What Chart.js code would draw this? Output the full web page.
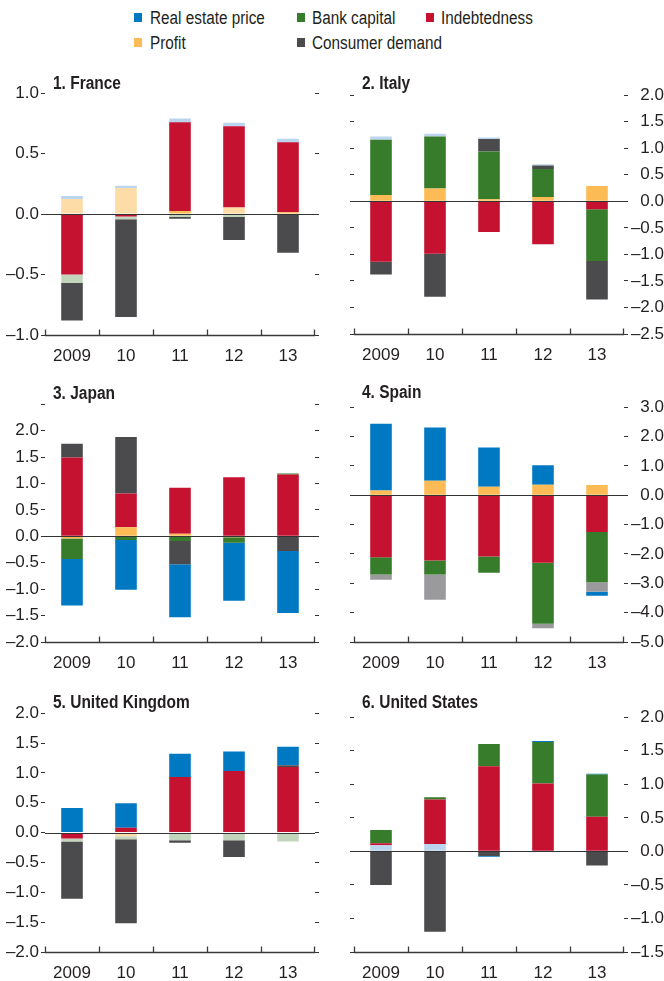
<!DOCTYPE html>
<html><head><meta charset="utf-8">
<script src="https://cdn.jsdelivr.net/npm/chart.js@4.4.1/dist/chart.umd.min.js"></script>
<style>
body{margin:0;background:#fff;width:664px;height:981px;position:relative;overflow:hidden;font-family:'Liberation Sans',Arial,sans-serif;color:#231f20}
canvas{position:absolute}
.title{position:absolute;font-weight:bold;font-size:18px;line-height:20px;z-index:2;white-space:nowrap;transform:scaleX(0.86);transform-origin:0 50%}
.leg{position:absolute;font-size:18px;line-height:20px;white-space:nowrap;transform:scaleX(0.85);transform-origin:0 50%}
.sw{position:absolute;width:8px;height:9px}
</style></head><body>
<script>
// ---------- categories & series ----------
const years = ['2009', '10', '11', '12', '13'];
const seriesKeys = ['re', 'bank', 'debt', 'profit', 'consumer'];
const seriesLabels = {re: 'Real estate price', bank: 'Bank capital', debt: 'Indebtedness', profit: 'Profit', consumer: 'Consumer demand'};

// ---------- values (percentage points) ----------
// 1. France
const franceRealEstate = [0.025, 0.02, 0.03, 0.028, 0.028];
const franceProfit     = [0.125, 0.215, 0.025, 0.055, 0.015];
const franceDebt       = [-0.50, -0.02, 0.735, 0.672, 0.58];
const franceBank       = [-0.07, -0.022, -0.025, -0.025, 0];
const franceConsumer   = [-0.31, -0.81, -0.013, -0.19, -0.32];
const franceFaded = {re: [1,1,1,1,1], profit: [1,1,0,1,0], bank: [1,1,1,1,1]};
// 2. Italy
const italyRealEstate = [0.06, 0.05, 0.03, 0.025, 0];
const italyProfit     = [0.12, 0.244, 0.04, 0.08, 0.29];
const italyDebt       = [-1.14, -0.99, -0.58, -0.81, -0.15];
const italyBank       = [1.04, 0.98, 0.90, 0.53, -0.975];
const italyConsumer   = [-0.24, -0.81, 0.235, 0.065, -0.725];
const italyFaded = {re: [1,1,1,1,1]};
// 3. Japan
const japanRealEstate = [-0.88, -0.94, -1.00, -1.10, -1.17];
const japanProfit     = [-0.04, 0.17, 0.05, -0.02, -0.01];
const japanDebt       = [1.49, 0.64, 0.87, 1.12, 1.17];
const japanBank       = [-0.39, -0.07, -0.09, -0.10, 0.02];
const japanConsumer   = [0.26, 1.07, -0.44, 0, -0.27];
const japanFaded = {};
// 4. Spain
const spainRealEstate = [2.28, 1.82, 1.34, 0.66, -0.13];
const spainProfit     = [0.16, 0.49, 0.29, 0.36, 0.35];
const spainDebt       = [-2.11, -2.22, -2.09, -2.30, -1.25];
const spainBank       = [-0.59, -0.48, -0.55, -2.08, -1.71];
const spainConsumer   = [-0.18, -0.86, 0, -0.15, -0.33];
const spainFaded = {consumer: [1,1,1,1,1]};
// 5. United Kingdom
const ukRealEstate = [0.41, 0.41, 0.39, 0.33, 0.31];
const ukProfit     = [0, -0.06, 0, 0, 0];
const ukDebt       = [-0.10, 0.08, 0.93, 1.03, 1.10];
const ukBank       = [-0.05, -0.05, -0.13, -0.13, -0.15];
const ukConsumer   = [-0.96, -1.41, -0.04, -0.28, 0.03];
const ukFaded = {profit: [1,1,1,1,1], bank: [1,1,1,1,1]};
// 6. United States
const usRealEstate = [0.09, 0.11, -0.01, 0.015, 0.01];
const usProfit     = [0, 0, 0, 0, 0];
const usDebt       = [0.03, 0.665, 1.27, 1.01, 0.516];
const usBank       = [0.20, 0.03, 0.33, 0.62, 0.63];
const usConsumer   = [-0.50, -1.20, -0.07, 0, -0.21];
const usFaded = {re: [1,1,0,0,0]};

// ---------- styles ----------
const strongColors = {re: '#0079c2', bank: '#367c2b', debt: '#c41230', profit: '#fdbb55', consumer: '#4b4b4d'};
const fadedColors  = {re: '#bcd5ee', bank: '#c3d6bd', debt: '#e8a0ab', profit: '#fedca8', consumer: '#9a9a9d'};
const FONT = "'Liberation Sans',Arial,sans-serif";
const TEXT = '#231f20';

const panels = [
  {title: '1. France', values: {re: franceRealEstate, profit: franceProfit, debt: franceDebt, bank: franceBank, consumer: franceConsumer}, faded: franceFaded,
   min: -1, max: 1, step: 0.5, labelMax: 1, side: 'left', box: [0, 81, 332, 284], titlePos: [53, 73],
   order: ['profit', 'debt', 'bank', 'consumer', 're']},
  {title: '2. Italy', values: {re: italyRealEstate, profit: italyProfit, debt: italyDebt, bank: italyBank, consumer: italyConsumer}, faded: italyFaded,
   min: -2.5, max: 2, step: 0.5, labelMax: 2, side: 'right', box: [332, 83, 332, 281], titlePos: [362, 73],
   order: ['profit', 'debt', 'bank', 'consumer', 're']},
  {title: '3. Japan', values: {re: japanRealEstate, profit: japanProfit, debt: japanDebt, bank: japanBank, consumer: japanConsumer}, faded: japanFaded,
   min: -2, max: 2.5, step: 0.5, labelMax: 2, side: 'left', box: [0, 392, 332, 280], titlePos: [53, 383],
   order: ['profit', 'debt', 'bank', 'consumer', 're']},
  {title: '4. Spain', values: {re: spainRealEstate, profit: spainProfit, debt: spainDebt, bank: spainBank, consumer: spainConsumer}, faded: spainFaded,
   min: -5, max: 3, step: 1, labelMax: 3, side: 'right', box: [332, 395, 332, 277], titlePos: [362, 382],
   order: ['profit', 'debt', 'bank', 'consumer', 're']},
  {title: '5. United Kingdom', values: {re: ukRealEstate, profit: ukProfit, debt: ukDebt, bank: ukBank, consumer: ukConsumer}, faded: ukFaded,
   min: -2, max: 2, step: 0.5, labelMax: 2, side: 'left', box: [0, 701, 332, 281], titlePos: [53, 692],
   order: ['profit', 'debt', 'bank', 'consumer', 're']},
  {title: '6. United States', values: {re: usRealEstate, profit: usProfit, debt: usDebt, bank: usBank, consumer: usConsumer}, faded: usFaded,
   min: -1.5, max: 2, step: 0.5, labelMax: 2, side: 'right', box: [332, 705, 332, 277], titlePos: [362, 692],
   order: ['re:faded', 'profit', 'debt', 'bank', 'consumer', 're:strong']}
];

// ---------- legend ----------
const legendItems = [
  ['re', 134, 150, 8], ['bank', 297, 312, 8], ['debt', 426, 441, 8],
  ['profit', 134, 150, 33], ['consumer', 297, 312, 33]
];
legendItems.forEach(([k, sx, tx, y]) => {
  const sw = document.createElement('div'); sw.className = 'sw';
  sw.style.left = sx + 'px'; sw.style.top = (y + 5) + 'px'; sw.style.background = strongColors[k];
  document.body.appendChild(sw);
  const t = document.createElement('div'); t.className = 'leg';
  t.style.left = tx + 'px'; t.style.top = y + 'px'; t.textContent = seriesLabels[k];
  document.body.appendChild(t);
});

function fmt(v) {
  if (Math.abs(v) < 1e-9) return '0.0';
  return (v < 0 ? '\u2013' : '') + Math.abs(v).toFixed(1);
}

const axisPlugin = {
  id: 'axisLines',
  afterDatasetsDraw(chart) {
    const {ctx, chartArea: a, scales} = chart;
    const x = scales.x, y = scales.y;
    ctx.save();
    ctx.strokeStyle = '#333';
    ctx.lineWidth = 1;
    const zy = Math.round(y.getPixelForValue(0)) + 0.5;
    ctx.beginPath(); ctx.moveTo(a.left, zy); ctx.lineTo(a.right, zy); ctx.stroke();
    ctx.strokeStyle = '#3a3a3a';
    ctx.lineWidth = 1.3;
    const by = Math.round(a.bottom) + 0.5;
    ctx.beginPath(); ctx.moveTo(a.left, by); ctx.lineTo(a.right, by); ctx.stroke();
    const n = x.ticks.length;
    for (let i = 0; i <= n; i++) {
      let bx;
      if (i === 0) bx = a.left + 0.5;
      else if (i === n) bx = a.right - 0.5;
      else bx = Math.round((x.getPixelForTick(i - 1) + x.getPixelForTick(i)) / 2) + 0.5;
      ctx.beginPath(); ctx.moveTo(bx, by); ctx.lineTo(bx, by - 6); ctx.stroke();
    }
    ctx.restore();
  }
};

function buildDatasets(p) {
  return p.order.map(entry => {
    const [key, part] = entry.split(':');
    const vals = p.values[key];
    const fl = p.faded[key] || vals.map(() => 0);
    const data = vals.map((v, i) => part === 'faded' ? (fl[i] ? v : 0) : part === 'strong' ? (fl[i] ? 0 : v) : v);
    return {
      label: seriesLabels[key],
      data,
      backgroundColor: vals.map((v, i) => fl[i] ? fadedColors[key] : strongColors[key]),
      borderWidth: 0,
      stack: 's',
      barPercentage: 0.4,
      categoryPercentage: 1
    };
  });
}

panels.forEach(p => {
  const [L, T, W, H] = p.box;
  const tt = document.createElement('div'); tt.className = 'title';
  tt.style.left = p.titlePos[0] + 'px'; tt.style.top = p.titlePos[1] + 'px'; tt.textContent = p.title;

  const cv = document.createElement('canvas');
  cv.width = W; cv.height = H;
  cv.style.left = L + 'px'; cv.style.top = T + 'px';
  cv.style.width = W + 'px'; cv.style.height = H + 'px';
  document.body.appendChild(cv);
  document.body.appendChild(tt);

  const labelSide = p.side;
  const dashSide = p.side === 'left' ? 'right' : 'left';
  const labelWidth = p.side === 'left' ? 45 : 40;
  const dashWidth = p.side === 'left' ? 17 : 22;
  const gridOpts = {drawOnChartArea: false, drawTicks: true, tickLength: 4, color: '#333', tickColor: '#333', lineWidth: 1};

  new Chart(cv, {
    type: 'bar',
    data: {labels: years, datasets: buildDatasets(p)},
    options: {
      responsive: false,
      animation: false,
      devicePixelRatio: 1,
      layout: {padding: {top: 12, bottom: 0, left: 0, right: 0}},
      plugins: {legend: {display: false}, tooltip: {enabled: false}, title: {display: false}},
      scales: {
        x: {
          stacked: true,
          grid: {display: false}, border: {display: false},
          ticks: {font: {family: FONT, size: 17}, color: TEXT, padding: 3, maxRotation: 0, autoSkip: false},
          afterFit(s) { s.height = 30; }
        },
        y: {
          stacked: true, position: labelSide, min: p.min, max: p.max,
          ticks: {stepSize: p.step, font: {family: FONT, size: 17}, color: TEXT, padding: 2,
                  crossAlign: p.side === 'right' ? 'far' : 'near',
                  callback: v => (v > p.labelMax + 1e-9 ? '' : fmt(v))},
          grid: gridOpts, border: {display: false},
          afterFit(s) { s.width = labelWidth; }
        },
        y2: {
          position: dashSide, min: p.min, max: p.max,
          ticks: {stepSize: p.step, display: false},
          grid: gridOpts, border: {display: false},
          afterFit(s) { s.width = dashWidth; }
        }
      }
    },
    plugins: [axisPlugin]
  });
});
</script>
</body></html>
